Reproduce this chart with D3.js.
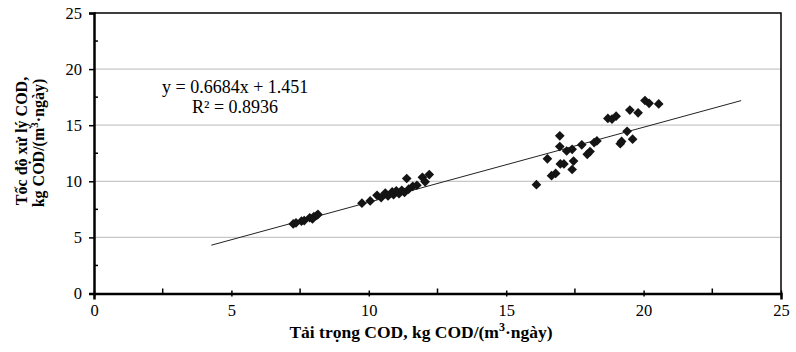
<html>
<head>
<meta charset="utf-8">
<script src="https://cdn.jsdelivr.net/npm/d3@7"></script>
<style>
  body { margin: 0; background: #fff; font-family: "Liberation Serif", "Times New Roman", serif; }
  .tick text { font-family: "Liberation Serif", serif; font-size: 16.5px; fill: #000; }
  .ttl { font-family: "Liberation Serif", serif; font-size: 17.5px; font-weight: bold; }
</style>
</head>
<body>
<div id="chart"></div>
<script>
// load (x) vs removal rate (y), kg COD/(m3.day)
var loadX = [7.25, 7.35, 7.55, 7.65, 7.85, 7.95, 8.0, 8.1, 8.15,
  9.75, 10.05, 10.3, 10.45, 10.6, 10.7, 10.85, 10.9, 11.0, 11.1, 11.2, 11.3, 11.38, 11.45, 11.6, 11.75, 11.95, 12.05, 12.2,
  16.1, 16.5, 16.65, 16.8, 16.95, 16.95, 16.97, 17.1, 17.2, 17.4, 17.4, 17.45, 17.75, 17.95, 18.05, 18.2, 18.3,
  18.7, 18.85, 19.0, 19.15, 19.2, 19.4, 19.5, 19.6, 19.8, 20.05, 20.2, 20.55];
var rateY = [6.2, 6.3, 6.45, 6.5, 6.75, 6.65, 6.85, 6.95, 7.05,
  8.05, 8.25, 8.75, 8.55, 8.95, 8.7, 9.05, 8.8, 9.15, 8.9, 9.2, 9.0, 10.25, 9.3, 9.55, 9.65, 10.35, 9.95, 10.6,
  9.7, 12.0, 10.5, 10.7, 13.1, 14.05, 11.55, 11.55, 12.7, 12.85, 11.05, 11.8, 13.25, 12.4, 12.65, 13.45, 13.6,
  15.6, 15.55, 15.8, 13.35, 13.55, 14.45, 16.35, 13.75, 16.1, 17.2, 16.95, 16.9];
var slope = 0.6684, intercept = 1.451;
var fitRange = [4.27, 23.55];
var xTicks = [0, 5, 10, 15, 20, 25];
var yTicks = [0, 5, 10, 15, 20, 25];
var minorTicks = [2.5, 7.5, 12.5, 17.5, 22.5];

var W = 796, H = 352;
var m = {left: 94, right: 15, top: 13, bottom: 58.5};
var svg = d3.select('#chart').append('svg').attr('width', W).attr('height', H);

var x = d3.scaleLinear().domain([0, 25]).range([m.left, W - m.right]);
var y = d3.scaleLinear().domain([0, 25]).range([H - m.bottom, m.top]);

// gridlines
svg.append('g').selectAll('line').data(yTicks.filter(function(d) { return d > 0 && d < 25; }))
  .enter().append('line')
  .attr('x1', x(0)).attr('x2', x(25))
  .attr('y1', function(d) { return y(d); }).attr('y2', function(d) { return y(d); })
  .attr('stroke', '#c8c8c8').attr('stroke-width', 1.2);

// frame (top/right)
svg.append('path')
  .attr('d', 'M' + x(0) + ',' + y(25) + 'H' + x(25) + 'V' + y(0))
  .attr('fill', 'none').attr('stroke', '#000').attr('stroke-width', 1.5);

// x axis
var xAxis = svg.append('g').attr('transform', 'translate(0,' + y(0) + ')')
  .call(d3.axisBottom(x).tickValues(xTicks).tickSize(6).tickPadding(5).tickFormat(d3.format('d')));
xAxis.selectAll('.tick line').attr('transform', 'translate(0,-3)').attr('stroke-width', 1.5);
xAxis.select('.domain').attr('stroke-width', 2.5);
svg.append('g').selectAll('line').data(minorTicks).enter().append('line')
  .attr('x1', function(d) { return x(d); }).attr('x2', function(d) { return x(d); })
  .attr('y1', y(0)).attr('y2', y(0) - 5).attr('stroke', '#000').attr('stroke-width', 1.5);

// y axis
var yAxis = svg.append('g').attr('transform', 'translate(' + x(0) + ',0)')
  .call(d3.axisLeft(y).tickValues(yTicks).tickSize(5).tickPadding(7).tickFormat(d3.format('d')));
yAxis.selectAll('.tick line').attr('stroke-width', 1.5);
yAxis.select('.domain').attr('stroke-width', 2.5);
svg.append('g').selectAll('line').data(minorTicks).enter().append('line')
  .attr('x1', x(0)).attr('x2', x(0) + 4)
  .attr('y1', function(d) { return y(d); }).attr('y2', function(d) { return y(d); })
  .attr('stroke', '#000').attr('stroke-width', 1.5);

// trend line
svg.append('line')
  .attr('x1', x(fitRange[0])).attr('y1', y(slope * fitRange[0] + intercept))
  .attr('x2', x(fitRange[1])).attr('y2', y(slope * fitRange[1] + intercept))
  .attr('stroke', '#222').attr('stroke-width', 1);

// points
var diamond = d3.symbol().type(d3.symbolDiamond2).size(60);
svg.append('g').selectAll('path').data(loadX).enter().append('path')
  .attr('d', diamond)
  .attr('transform', function(d, i) { return 'translate(' + x(d) + ',' + y(rateY[i]) + ')'; })
  .attr('fill', '#141414');

// equation
svg.append('text').attr('x', 162).attr('y', 93)
  .style('font-size', '18px').text('y = 0.6684x + 1.451');
svg.append('text').attr('x', 192).attr('y', 113)
  .style('font-size', '18px').text('R² = 0.8936');

// x title
var xt = svg.append('text').attr('class', 'ttl').attr('x', 421).attr('y', 338).attr('text-anchor', 'middle');
xt.append('tspan').text('Tải trọng COD, kg COD/(m');
xt.append('tspan').attr('dy', -7).style('font-size', '12px').text('3');
xt.append('tspan').attr('dy', 7).text('·ngày)');

// y title
var yt = svg.append('text').attr('class', 'ttl').style('font-size', '16px')
  .attr('transform', 'translate(27,141) rotate(-90)').attr('text-anchor', 'middle');
yt.append('tspan').text('Tốc độ xử lý COD,');
var yt2 = svg.append('text').attr('class', 'ttl').style('font-size', '16px')
  .attr('transform', 'translate(44,143) rotate(-90)').attr('text-anchor', 'middle');
yt2.append('tspan').text('kg COD/(m');
yt2.append('tspan').attr('dy', -6).style('font-size', '11px').text('3');
yt2.append('tspan').attr('dy', 6).text('·ngày)');
</script>
</body>
</html>
